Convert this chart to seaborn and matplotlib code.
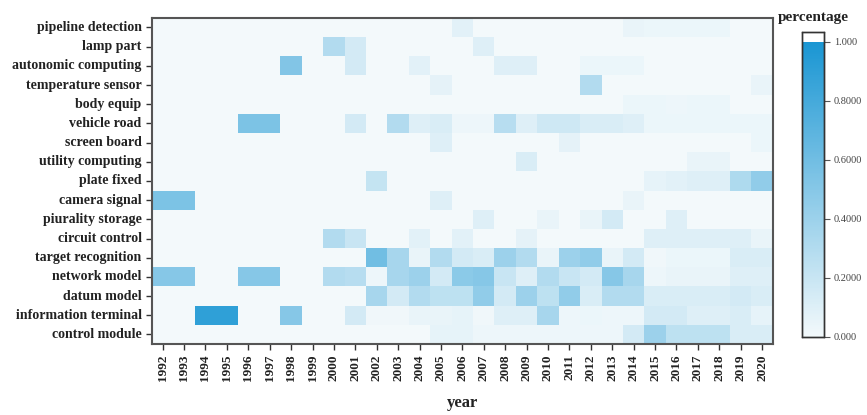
import numpy as np
import pandas as pd
import matplotlib
matplotlib.use("Agg")
import matplotlib.pyplot as plt
from matplotlib.colors import LinearSegmentedColormap, ListedColormap
import seaborn as sns

years = [str(y) for y in range(1992, 2021)]
topics = [
    "pipeline detection", "lamp part", "autonomic computing", "temperature sensor",
    "body equip", "vehicle road", "screen board", "utility computing", "plate fixed",
    "camera signal", "piurality storage", "circuit control", "target recognition",
    "network model", "datum model", "information terminal", "control module",
]

#                       1992 ... 2020
pipeline_detection   = [0,0,0,0,0,0,0,0,0,0,0,0,0,0,.08,0,0,0,0,0,0,0,.05,.04,.04,.04,.04,0,0]
lamp_part            = [0,0,0,0,0,0,0,0,.30,.15,0,0,0,0,0,.10,0,0,0,0,0,0,0,0,0,0,0,0,0]
autonomic_computing  = [0,0,0,0,0,0,.52,0,0,.15,0,0,.08,0,0,0,.10,.10,0,0,.04,.04,.04,0,0,0,0,0,0]
temperature_sensor   = [0,0,0,0,0,0,0,0,0,0,0,0,0,.07,0,0,0,0,0,0,.30,0,0,0,0,0,0,0,.05]
body_equip           = [0,0,0,0,0,0,0,0,0,0,0,0,0,0,0,0,0,0,0,0,0,0,.04,.04,.03,.04,.04,0,0]
vehicle_road         = [0,0,0,0,.55,.55,0,0,0,.15,0,.30,.10,.12,.03,.03,.28,.10,.17,.17,.12,.12,.10,.04,.04,.04,.04,.04,.04]
screen_board         = [0,0,0,0,0,0,0,0,0,0,0,0,0,.10,0,0,0,0,0,.07,0,0,0,0,0,0,0,0,.04]
utility_computing    = [0,0,0,0,0,0,0,0,0,0,0,0,0,0,0,0,0,.12,0,0,0,0,0,0,0,.05,.05,0,0]
plate_fixed          = [0,0,0,0,0,0,0,0,0,0,.22,0,0,0,0,0,0,0,0,0,0,0,0,.06,.08,.10,.10,.32,.45]
camera_signal        = [.55,.55,0,0,0,0,0,0,0,0,0,0,0,.10,0,0,0,0,0,0,0,0,.05,0,0,0,0,0,0]
piurality_storage    = [0,0,0,0,0,0,0,0,0,0,0,0,0,0,0,.10,0,0,.05,0,.05,.15,0,0,.10,0,0,0,0]
circuit_control      = [0,0,0,0,0,0,0,0,.30,.20,0,0,.08,0,.08,0,0,.07,0,0,0,0,0,.10,.10,.10,.10,.10,.05]
target_recognition   = [0,0,0,0,0,0,0,0,0,0,.60,.35,.05,.30,.15,.12,.40,.30,.05,.40,.45,.05,.15,.02,.04,.04,.04,.12,.12]
network_model        = [.50,.50,0,0,.50,.50,0,0,.30,.28,.03,.35,.40,.15,.48,.50,.20,.10,.30,.20,.15,.50,.35,.03,.05,.05,.05,.10,.10]
datum_model          = [0,0,0,0,0,0,0,0,0,0,.35,.15,.30,.25,.25,.45,.15,.40,.25,.45,.12,.30,.30,.12,.12,.12,.12,.15,.12]
information_terminal = [0,0,.90,.90,0,0,.50,0,0,.15,.02,.02,.05,.05,.06,.02,.10,.10,.35,.03,.04,.03,.03,.15,.15,.10,.10,.12,.06]
control_module       = [0,0,0,0,0,0,0,0,0,0,0,0,0,.06,.06,.03,.03,.03,.03,.03,.03,.03,.15,.40,.25,.25,.25,.12,.12]

rows = [pipeline_detection, lamp_part, autonomic_computing, temperature_sensor,
        body_equip, vehicle_road, screen_board, utility_computing, plate_fixed,
        camera_signal, piurality_storage, circuit_control, target_recognition,
        network_model, datum_model, information_terminal, control_module]
df = pd.DataFrame(rows, index=topics, columns=years)

cbar_ticks = [0.0, 0.2, 0.4, 0.6, 0.8, 1.0]
cbar_labels = ["0.000", "0.2000", "0.4000", "0.6000", "0.8000", "1.000"]

# linear blue ramp for 0..1, with a white cap above 1.0 on the colour bar
vmax = 1.034
ramp = LinearSegmentedColormap.from_list("blues", ["#f3f9fb", "#1a96d3"])
n = 512
n_ramp = int(n / vmax)
colors = np.vstack([ramp(np.linspace(0, 1, n_ramp)),
                    np.tile([1, 1, 1, 1], (n - n_ramp, 1))])
cmap = ListedColormap(colors)

sns.set_theme(style="white")
plt.rcParams["font.family"] = ["Liberation Serif", "DejaVu Serif"]

fig = plt.figure(figsize=(8.67, 4.15), dpi=100)
ax = fig.add_axes([0.1753, 0.171, 0.716, 0.786])
cax = fig.add_axes([0.925, 0.188, 0.025, 0.735])

sns.heatmap(df, ax=ax, cbar_ax=cax, cmap=cmap, vmin=0, vmax=vmax,
            linewidths=0, cbar_kws={"ticks": cbar_ticks})

for s in ax.spines.values():
    s.set_visible(True)
    s.set_color("#555555")
    s.set_linewidth(1.5)

ax.tick_params(axis="both", which="both", length=4, width=1, color="#333333",
               left=True, bottom=True)
ax.set_yticklabels(topics, rotation=0, fontsize=10, fontweight="bold", color="#222222")
ax.set_xticklabels(years, rotation=90, fontsize=9.5, fontweight="bold", color="#222222")
ax.set_xlabel("year", fontsize=12, fontweight="bold", color="#222222", labelpad=10)
ax.set_ylabel("")

cax.set_yticklabels(cbar_labels)
cax.tick_params(axis="y", length=4, width=0.8, color="#555555", labelsize=7.5,
                labelcolor="#444444", right=True)
for s in cax.spines.values():
    s.set_visible(True)
    s.set_color("#333333")
    s.set_linewidth(1.0)
cax.set_title("percentage", fontsize=11, fontweight="bold", color="#222222", pad=8)

fig.savefig("out.png", dpi=100)
